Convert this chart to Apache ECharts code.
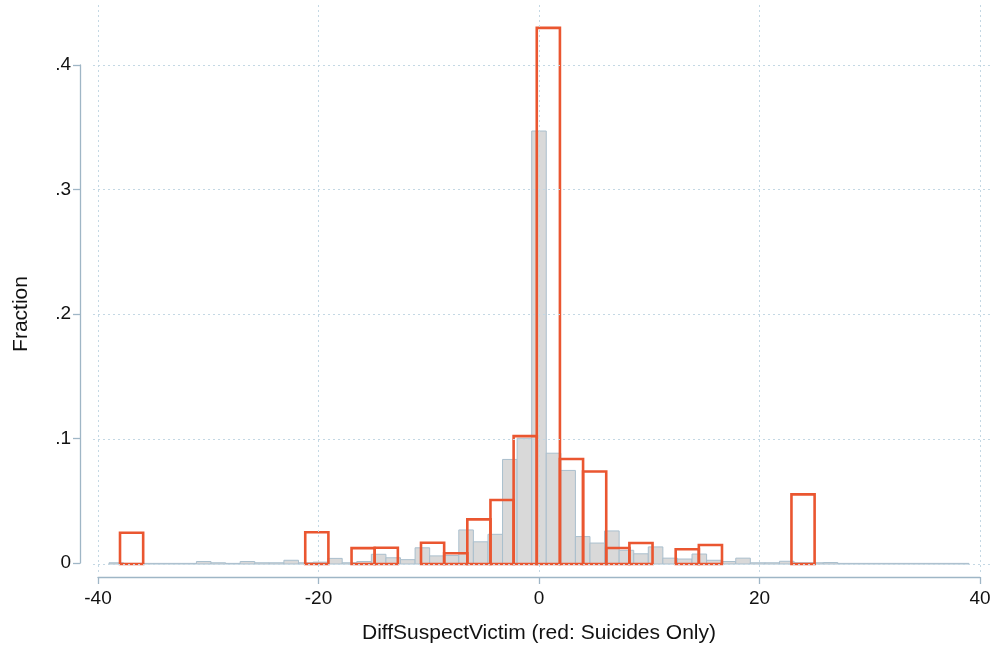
<!DOCTYPE html>
<html>
<head>
<meta charset="utf-8">
<script src="https://cdn.jsdelivr.net/npm/echarts@6/dist/echarts.min.js"></script>
<style>
html,body{margin:0;padding:0;background:#fff;}
#chart{width:994px;height:649px;}
</style>
</head>
<body>
<div id="chart"></div>
<script>
// Gray histogram (all cases): bins from -39 to 39, 59 bins
var grayBinMin = -39;
var grayBinWidth = 78 / 59;
var grayValues = [
  0.001, 0.0005, 0.0005, 0.0005, 0.0005, 0.0005, 0.002, 0.001, 0.0005, 0.002,
  0.001, 0.001, 0.003, 0.001, 0.0015, 0.0045, 0.001, 0.002, 0.0078, 0.005,
  0.0035, 0.013, 0.0065, 0.0068, 0.0273, 0.0178, 0.0238, 0.0838, 0.1008, 0.347,
  0.0888, 0.075, 0.022, 0.0168, 0.0265, 0.011, 0.0082, 0.0137, 0.0047, 0.004,
  0.008, 0.003, 0.002, 0.0047, 0.001, 0.001, 0.0022, 0.001, 0.001, 0.0012,
  0.0005, 0.0005, 0.0005, 0.0005, 0.0005, 0.0005, 0.0005, 0.0005, 0.0005
];
// Red histogram (suicides only): bins from -38 to 25, 30 bins
var redBinMin = -38;
var redBinWidth = 2.1;
var redValues = [
  0.025, 0, 0, 0, 0, 0, 0, 0, 0.0255, 0,
  0.0127, 0.013, 0, 0.017, 0.0086, 0.0358, 0.0513, 0.1025, 0.4297, 0.0842,
  0.0742, 0.0128, 0.0168, 0, 0.0118, 0.0152, 0, 0, 0, 0.0558
];
var xTicks = [-40, -20, 0, 20, 40];
var yTicks = [0, 0.1, 0.2, 0.3, 0.4];
var xTitle = 'DiffSuspectVictim (red: Suicides Only)';
var yTitle = 'Fraction';

function bins(min, width, vals) {
  var out = [];
  for (var i = 0; i < vals.length; i++) {
    out.push([min + i * width, min + (i + 1) * width, vals[i]]);
  }
  return out;
}

var FONT = "'Liberation Sans', Arial, Helvetica, sans-serif";
var gridColor = '#c4d8e4';
var axisColor = '#9fb6c6';

function makeRender(fill, stroke, lw, skipZero) {
  return function (params, api) {
    var x0 = api.value(0), x1 = api.value(1), v = api.value(2);
    if (skipZero && !v) return null;
    var p0 = api.coord([x0, v]);
    var p1 = api.coord([x1, 0]);
    return {
      type: 'rect',
      shape: { x: p0[0], y: p0[1], width: p1[0] - p0[0], height: p1[1] - p0[1] },
      style: { fill: fill, stroke: stroke, lineWidth: lw }
    };
  };
}

var gridLineData = [];
xTicks.forEach(function (t) { gridLineData.push({ xAxis: t }); });
yTicks.forEach(function (t) { gridLineData.push({ yAxis: t }); });

var chart = echarts.init(document.getElementById('chart'), null, { renderer: 'canvas' });
chart.setOption({
  animation: false,
  backgroundColor: '#ffffff',
  grid: [
    { left: 93, right: 1, top: 5, bottom: 77 },
    { left: 98, right: 14, top: 65, bottom: 85 }
  ],
  xAxis: [
    {
      type: 'value', gridIndex: 0, min: -40.45, max: 41.18,
      axisLine: { show: false }, axisTick: { show: false }, axisLabel: { show: false },
      splitLine: { show: false }
    },
    {
      type: 'value', gridIndex: 1, min: xTicks[0], max: xTicks[xTicks.length - 1], interval: 20,
      offset: 14,
      axisLine: { show: true, onZero: false, lineStyle: { color: axisColor, width: 1.3 } },
      axisTick: { show: true, length: 7, lineStyle: { color: axisColor, width: 1.3 } },
      axisLabel: { color: '#111', fontFamily: FONT, fontSize: 19, margin: 12 },
      splitLine: { show: false },
      name: xTitle, nameLocation: 'middle', nameGap: 46,
      nameTextStyle: { color: '#111', fontFamily: FONT, fontSize: 21 }
    }
  ],
  yAxis: [
    {
      type: 'value', gridIndex: 0, min: -0.0064, max: 0.448,
      axisLine: { show: false }, axisTick: { show: false }, axisLabel: { show: false },
      splitLine: { show: false }
    },
    {
      type: 'value', gridIndex: 1, min: yTicks[0], max: yTicks[yTicks.length - 1], interval: 0.1,
      offset: 18,
      axisLine: { show: true, onZero: false, lineStyle: { color: axisColor, width: 1.3 } },
      axisTick: { show: true, length: 7, lineStyle: { color: axisColor, width: 1.3 } },
      axisLabel: {
        color: '#111', fontFamily: FONT, fontSize: 19, margin: 9,
        formatter: function (v) {
          if (Math.abs(v) < 1e-9) return '0';
          return '.' + Math.round(v * 10);
        }
      },
      splitLine: { show: false },
      name: yTitle, nameLocation: 'middle', nameGap: 48, nameRotate: 90,
      nameTextStyle: { color: '#111', fontFamily: FONT, fontSize: 21 }
    }
  ],
  series: [
    {
      type: 'line', xAxisIndex: 0, yAxisIndex: 0, data: [], z: 1,
      silent: true,
      markLine: {
        silent: true, symbol: 'none', animation: false,
        label: { show: false },
        emphasis: { disabled: true },
        lineStyle: { color: gridColor, type: [2, 3], width: 1 },
        data: gridLineData
      }
    },
    {
      type: 'custom', xAxisIndex: 0, yAxisIndex: 0,
      renderItem: makeRender('#d9d9d9', '#aabfcd', 1, false),
      data: bins(grayBinMin, grayBinWidth, grayValues),
      encode: { x: [0, 1], y: 2 },
      z: 2
    },
    {
      type: 'custom', xAxisIndex: 0, yAxisIndex: 0,
      renderItem: makeRender('none', '#ea5630', 2.6, true),
      data: bins(redBinMin, redBinWidth, redValues),
      encode: { x: [0, 1], y: 2 },
      z: 3
    }
  ]
});
</script>
</body>
</html>
